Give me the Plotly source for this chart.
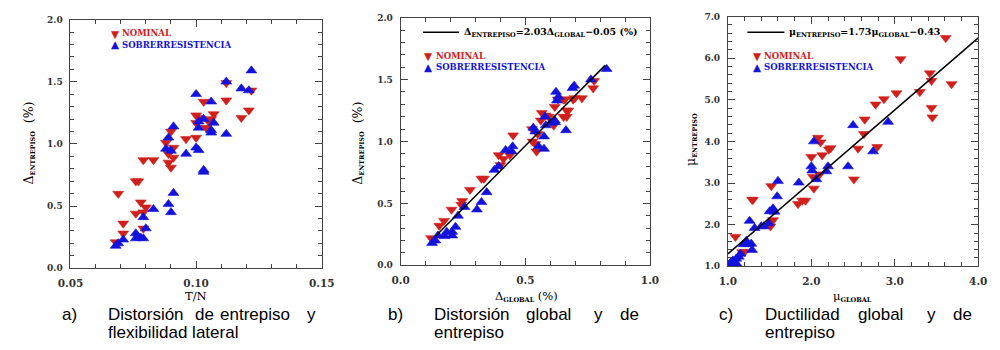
import plotly.graph_objects as go

# ---------------- data ----------------
# Panel a: interstory drift vs T/N
a_nom_x = [0.068, 0.069, 0.071, 0.071, 0.076, 0.077, 0.076, 0.078, 0.079, 0.079, 0.080, 0.079,
           0.083, 0.088, 0.089, 0.089, 0.090, 0.090, 0.091, 0.091, 0.096, 0.100, 0.100, 0.100,
           0.101, 0.103, 0.104, 0.105, 0.106, 0.107, 0.112, 0.112, 0.118, 0.121, 0.122]
a_nom_y = [0.21, 0.60, 0.36, 0.28, 0.70, 0.70, 0.44, 0.53, 0.87, 0.45, 0.49, 0.32,
           0.87, 1.01, 0.92, 0.85, 0.81, 1.10, 0.97, 0.89, 1.04, 1.05, 1.23, 1.17,
           1.21, 1.34, 1.13, 1.18, 1.20, 1.24, 1.35, 1.49, 1.21, 1.27, 1.43]
a_sob_x = [0.068, 0.069, 0.071, 0.076, 0.076, 0.077, 0.078, 0.079, 0.079, 0.080, 0.083, 0.088,
           0.089, 0.089, 0.090, 0.090, 0.091, 0.091, 0.096, 0.100, 0.100, 0.101, 0.101, 0.101,
           0.103, 0.103, 0.103, 0.106, 0.106, 0.106, 0.107, 0.112, 0.112, 0.118, 0.121, 0.122]
a_sob_y = [0.18, 0.20, 0.23, 0.28, 0.24, 0.25, 0.245, 0.24, 0.41, 0.32, 0.475, 0.96,
           1.05, 0.515, 0.945, 0.45, 1.14, 0.605, 0.92, 1.40, 0.97, 0.95, 1.18, 1.13,
           1.20, 0.79, 0.775, 1.34, 1.11, 1.09, 1.17, 1.50, 1.08, 1.445, 1.43, 1.59]

# Panel b: interstory drift vs global drift
b_nom_x = [0.122, 0.155, 0.174, 0.204, 0.243, 0.247, 0.278, 0.324, 0.334, 0.393, 0.412, 0.400,
           0.451, 0.438, 0.527, 0.529, 0.540, 0.545, 0.550, 0.562, 0.566, 0.581, 0.594, 0.618,
           0.614, 0.631, 0.653, 0.659, 0.653, 0.666, 0.666, 0.672, 0.692, 0.698, 0.727, 0.776, 0.772]
b_nom_y = [0.22, 0.32, 0.36, 0.45, 0.49, 0.52, 0.61, 0.70, 0.70, 0.89, 0.86, 0.81,
           1.05, 0.89, 1.10, 1.00, 0.98, 0.92, 1.06, 1.17, 1.23, 1.21, 1.20, 1.28,
           1.13, 1.34, 1.34, 1.34, 1.20, 1.25, 1.20, 1.25, 1.34, 1.35, 1.35, 1.49, 1.43]
b_sob_x = [0.126, 0.139, 0.150, 0.176, 0.185, 0.207, 0.207, 0.220, 0.230, 0.256, 0.306, 0.324,
           0.345, 0.376, 0.393, 0.421, 0.449, 0.445, 0.532, 0.540, 0.553, 0.575, 0.575, 0.579,
           0.582, 0.601, 0.618, 0.623, 0.627, 0.633, 0.620, 0.663, 0.689, 0.696, 0.763, 0.826]
b_sob_y = [0.18, 0.20, 0.24, 0.235, 0.27, 0.24, 0.27, 0.31, 0.40, 0.47, 0.45, 0.51,
           0.59, 0.77, 0.80, 0.93, 0.96, 0.92, 1.11, 1.08, 0.96, 1.04, 0.94, 1.20,
           1.13, 1.15, 1.17, 1.40, 1.33, 1.36, 1.155, 1.09, 1.43, 1.45, 1.50, 1.585]
b_fit_slope, b_fit_icpt = 2.03, -0.05
b_fit_x = [0.14, 0.82]

# Panel c: interstory ductility vs global ductility
c_nom_x = [1.09, 1.17, 1.20, 1.29, 1.30, 1.52, 1.54, 1.51, 1.84, 1.89, 1.93, 2.00,
           2.02, 2.03, 2.08, 2.11, 2.13, 2.10, 2.21, 2.23, 2.51, 2.56, 2.63, 2.64,
           2.77, 2.87, 2.79, 3.02, 3.07, 3.30, 3.42, 3.44, 3.44, 3.45, 3.61, 3.68]
c_nom_y = [1.71, 1.34, 1.35, 2.60, 2.60, 2.93, 2.11, 1.96, 2.50, 2.58, 2.58, 3.63,
           3.15, 2.87, 4.09, 3.98, 3.67, 3.21, 3.81, 3.84, 3.09, 3.83, 4.18, 4.53,
           4.89, 5.02, 3.87, 5.16, 5.98, 5.19, 5.64, 5.46, 4.81, 4.58, 6.49, 5.38]
c_sob_x = [1.00, 1.02, 1.04, 1.06, 1.08, 1.10, 1.12, 1.13, 1.15, 1.19, 1.22, 1.24,
           1.26, 1.28, 1.29, 1.32, 1.40, 1.43, 1.49, 1.50, 1.54, 1.56, 1.59, 1.60,
           1.85, 2.00, 2.01, 2.03, 2.06, 2.18, 2.20, 2.44, 2.50, 2.74, 2.92]
c_sob_y = [1.01, 1.06, 1.10, 1.14, 1.06, 1.18, 1.02, 1.23, 1.30, 1.53, 1.61, 1.53,
           2.09, 1.54, 1.39, 1.92, 1.96, 1.96, 2.03, 2.32, 2.39, 2.31, 2.68, 3.05,
           3.01, 3.40, 3.30, 4.00, 3.09, 3.28, 3.40, 3.40, 4.39, 3.76, 4.47]
c_fit_slope, c_fit_icpt = 1.73, -0.43
c_fit_x = [1.0, 4.0]

series_names = ["NOMINAL", "SOBRERRESISTENCIA"]
captions = {
    "a": [["a)"], ["Distorsión", "de", "entrepiso", "y"], ["flexibilidad lateral"]],
    "b": [["b)"], ["Distorsión", "global", "y", "de"], ["entrepiso"]],
    "c": [["c)"], ["Ductilidad", "global", "y", "de"], ["entrepiso"]],
}

# ---------------- style ----------------
RED = "#D0201C"
BLUE = "#1212DC"
AX = "#444444"
SERIF = "DejaVu Serif"
SANS = "Liberation Sans"

W, H = 1000, 350
def PX(px):
    return px / W
def PY(py):
    return 1 - py / H

def sub(s, size=6.5):
    return "<sub><span style='font-size:%spx;font-weight:bold'>%s</span></sub>" % (size, s)

fig = go.Figure()

def add_pts(x, y, sym, col, xa, ya):
    fig.add_trace(go.Scatter(x=x, y=y, mode="markers", xaxis=xa, yaxis=ya, showlegend=False,
                             marker=dict(symbol=sym, size=9.5, color=col,
                                         line=dict(width=0.6, color=col))))

add_pts(a_nom_x, a_nom_y, "triangle-down", RED, "x", "y")
add_pts(a_sob_x, a_sob_y, "triangle-up", BLUE, "x", "y")
add_pts(b_nom_x, b_nom_y, "triangle-down", RED, "x2", "y2")
add_pts(b_sob_x, b_sob_y, "triangle-up", BLUE, "x2", "y2")
add_pts(c_nom_x, c_nom_y, "triangle-down", RED, "x3", "y3")
add_pts(c_sob_x, c_sob_y, "triangle-up", BLUE, "x3", "y3")

fig.add_trace(go.Scatter(x=b_fit_x, y=[b_fit_slope * v + b_fit_icpt for v in b_fit_x],
                         mode="lines", line=dict(color="black", width=1.5),
                         xaxis="x2", yaxis="y2", showlegend=False))
fig.add_trace(go.Scatter(x=c_fit_x, y=[c_fit_slope * v + c_fit_icpt for v in c_fit_x],
                         mode="lines", line=dict(color="black", width=1.5),
                         xaxis="x3", yaxis="y3", showlegend=False))

def axis(domain, rng, dtick, mdtick, fmt, fsize, anchor):
    return dict(domain=domain, range=rng, dtick=dtick, tick0=rng[0], tickformat=fmt,
                showline=True, linecolor=AX, linewidth=1, mirror="ticks",
                ticks="inside", ticklen=7, tickwidth=1, tickcolor=AX,
                showgrid=False, zeroline=False, anchor=anchor,
                ticklabelstandoff=5,
                tickfont=dict(family=SERIF, size=fsize, color="#333", weight="bold"),
                minor=dict(ticks="inside", dtick=mdtick, ticklen=4, tickwidth=1,
                           tickcolor=AX, showgrid=False))

fig.update_layout(
    width=W, height=H, margin=dict(l=0, r=0, t=0, b=0),
    paper_bgcolor="white", plot_bgcolor="white", showlegend=False,
    xaxis=axis([PX(59), PX(317)], [0.05, 0.15], 0.05, 0.01, ".2f", 10.5, "y"),
    yaxis=axis([PY(271), PY(15)], [0, 2], 0.5, 0.1, ".1f", 9, "x"),
    xaxis2=axis([PX(398), PX(654)], [0, 1], 0.5, 0.1, ".1f", 10.5, "y2"),
    yaxis2=axis([PY(268), PY(13)], [0, 2], 0.5, 0.1, ".1f", 9, "x2"),
    xaxis3=axis([PX(734), PX(991)], [1, 4], 1.0, 0.2, ".1f", 10.5, "y3"),
    yaxis3=axis([PY(269), PY(12)], [1, 7], 1.0, 0.2, ".1f", 9, "x3"),
)

ann = []
def text(px, py, s, size, family=SERIF, color="black", xanchor="center", angle=0,
         weight="normal"):
    ann.append(dict(x=PX(px), y=PY(py), xref="paper", yref="paper", text=s, showarrow=False,
                    xanchor=xanchor, yanchor="middle", textangle=angle,
                    borderpad=0, borderwidth=0,
                    font=dict(family=family, size=size, color=color, weight=weight)))

# axis titles
text(188, 300, "T/N", 11.5)
text(527, 300, "Δ" + sub("GLOBAL") + " (%)", 11.5)
text(862, 300, "μ" + sub("GLOBAL"), 11.5)
text(17, 142, "Δ" + sub("ENTREPISO") + "  (%)", 12.5, angle=-90)
text(355, 142, "Δ" + sub("ENTREPISO") + "  (%)", 12.5, angle=-90)
text(696, 138, "μ" + sub("ENTREPISO"), 12.5, angle=-90)

# in-plot legends
leg_pos = [(105, 112, 29, 41), (427, 434, 52, 64), (764, 771, 52, 64)]
for mx, tx, y1, y2 in leg_pos:
    text(mx, y1 + 0.5, "▼", 10.5, family="DejaVu Sans", color=RED)
    text(tx, y1, series_names[0], 8.5, color=RED, xanchor="left", weight="bold")
    text(mx, y2 - 0.5, "▲", 10.5, family="DejaVu Sans", color=BLUE)
    text(tx, y2, series_names[1], 8.5, color=BLUE, xanchor="left", weight="bold")

shapes = []
for x0, x1, tx, s in [
    (421, 458, 463, "Δ" + sub("ENTREPISO") + "=%.2fΔ" % b_fit_slope + sub("GLOBAL")
     + "−%.2f (%%)" % (-b_fit_icpt)),
    (754, 792, 797, "μ" + sub("ENTREPISO") + "=%.2fμ" % c_fit_slope + sub("GLOBAL")
     + "−%.2f" % (-c_fit_icpt)),
]:
    shapes.append(dict(type="line", xref="paper", yref="paper", x0=PX(x0), x1=PX(x1),
                       y0=PY(28), y1=PY(28), line=dict(color="black", width=1.5)))
    text(tx, 28, s, 9.5, xanchor="left", weight="bold")

# captions (justified words)
cap_pos = {
    "a": [[50], [98, 187, 213, 302], [98]],
    "b": [[385], [432, 527, 597, 623], [432]],
    "c": [[725], [772, 868, 938, 965], [772]],
}
CAP = 17
for k in captions:
    lines = captions[k]
    pos = cap_pos[k]
    for w, x in zip(lines[0] + lines[1], pos[0] + pos[1]):
        text(x, 318.2, w, CAP, family=SANS, xanchor="left")
    for w, x in zip(lines[2], pos[2]):
        text(x, 337.4, w, CAP, family=SANS, xanchor="left")

fig.update_layout(annotations=ann, shapes=shapes)
fig.write_html("out.html")
